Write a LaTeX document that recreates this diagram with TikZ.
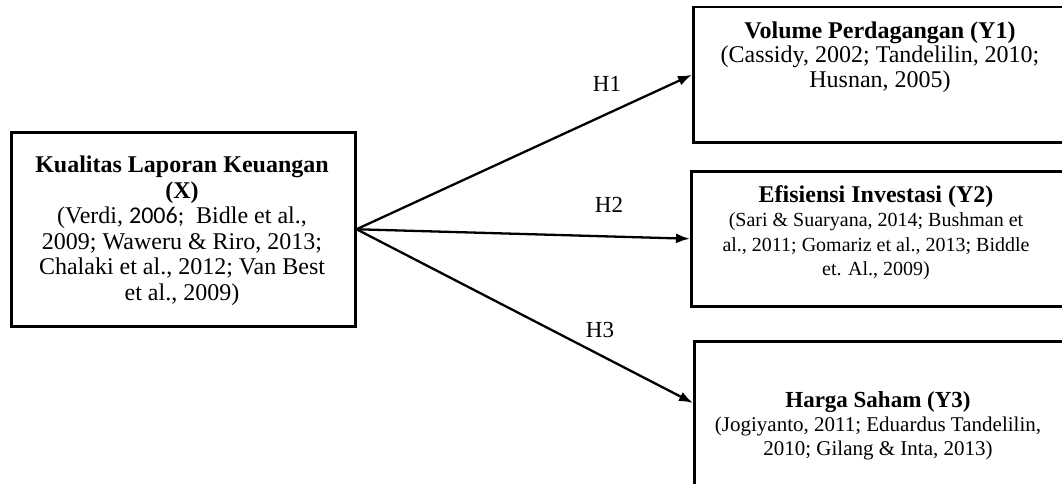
\documentclass[tikz,border=0pt]{standalone}
\usepackage{fontspec}
\setmainfont{Liberation Serif}
\newfontfamily\calfont{Carlito}
\newcommand\citeA{\fontsize{20}{24.3}\selectfont}
\newcommand\citeB{\fontsize{21}{24}\selectfont}
\usetikzlibrary{arrows.meta}
\begin{document}
\begin{tikzpicture}[x=1pt,y=-1pt,
  box/.style={draw, line width=2.5pt, inner sep=0pt, anchor=north west},
  txt/.style={align=center, inner sep=0pt, anchor=north},
  arr/.style={line width=2.3pt, -{Latex[length=14pt,width=10pt]}},
  hlab/.style={font=\fontsize{23}{25}\selectfont, inner sep=0pt}]
\useasboundingbox (0,0) rectangle (1062,484);
\clip (0,0) rectangle (1062,484);
% boxes
\node[box, minimum width=344pt, minimum height=194pt] (x) at (10,131) {};
\node[box, minimum width=376pt, minimum height=135pt] (y1) at (692,6) {};
\node[box, minimum width=372pt, minimum height=135pt] (y2) at (690,170) {};
\node[box, minimum width=372pt, minimum height=180pt] (y3) at (693,340) {};
\coordinate (y3in) at (693,403);
% texts
\node[txt, font=\fontsize{24}{25.5}\selectfont] (xt) at (182,156)
  {\textbf{Kualitas Laporan Keuangan}\\\textbf{(X)}\\(Verdi, {\calfont 2006;}\ \ Bidle et al.,\\2009; Waweru \& Riro, 2013;\\Chalaki et al., 2012; Van Best\\et al., 2009)};
\node[txt, font=\fontsize{24}{24.5}\selectfont] (y1t) at (880,21.5)
  {\textbf{Volume Perdagangan (Y1)}\\(Cassidy, 2002; Tandelilin, 2010;\\Husnan, 2005)};
\node[txt, font=\fontsize{24}{24.3}\selectfont] (y2t) at (876,185.5)
  {\textbf{Efisiensi Investasi (Y2)}\\\citeA(Sari \& Suaryana, 2014; Bushman et\\\citeA al., 2011; Gomariz et al., 2013; Biddle\\\citeA et. Al., 2009)};
\node[txt, font=\fontsize{23}{24}\selectfont] (y3t) at (878,391)
  {\textbf{Harga Saham (Y3)}\\\citeB(Jogiyanto, 2011; Eduardus Tandelilin,\\\citeB 2010; Gilang \& Inta, 2013)};
% arrows
\draw[arr] (x.east) -- (y1.west);
\draw[arr] (x.east) -- (y2.west);
\draw[arr] (x.east) -- (y3in);
% labels
\node[hlab] (h1) at (607,84) {H1};
\node[hlab] (h2) at (609,205) {H2};
\node[hlab] (h3) at (600,330) {H3};
\end{tikzpicture}
\end{document}
